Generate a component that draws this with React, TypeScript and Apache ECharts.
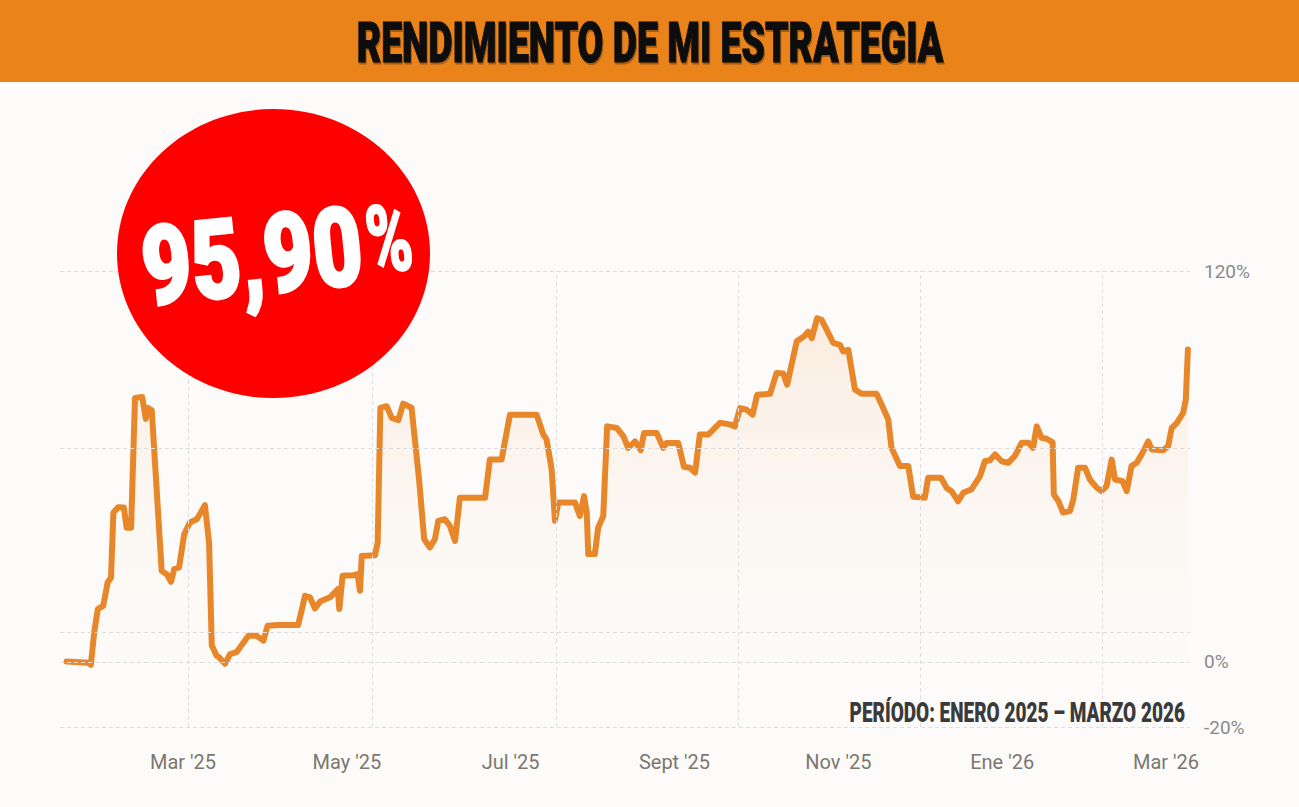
import React, { useEffect, useRef } from "react";
import * as echarts from "echarts";

// Days since the start of the chart and cumulative return (%)
const days = [
  2.2, 9.4, 10.3, 11.4, 12.6, 14.4, 15.9, 17.0, 17.8, 19.4, 21.3, 22.2, 23.7, 25.0, 27.4, 28.6, 29.2, 30.6,
  33.9, 35.6, 37.0, 38.1, 39.7, 41.4, 43.3, 45.6, 46.9, 48.3, 49.7, 50.6, 52.2, 53.0, 55.0, 56.7, 58.9,
  62.8, 65.6, 67.8, 69.2, 72.8, 79.4, 81.7, 83.3, 85.0, 86.7, 90.0, 92.6, 93.1, 94.2, 97.8, 99.2, 100.0,
  100.6, 105.0, 105.9, 106.8, 108.9, 110.6, 112.8, 114.4, 117.2, 119.7, 121.4, 123.3, 125.0, 126.1, 128.3,
  130.0, 131.7, 133.3, 141.7, 143.3, 147.2, 150.0, 158.9, 161.1, 162.2, 163.9, 165.0, 166.1, 171.7, 173.3,
  174.7, 175.6, 176.1, 178.3, 179.4, 181.1, 182.4, 185.6, 187.8, 189.4, 191.7, 193.6, 194.7, 198.9, 201.1,
  202.2, 206.1, 208.0, 210.0, 211.7, 213.3, 216.1, 220.0, 223.3, 225.0, 226.7, 228.9, 230.9, 232.4, 236.7,
  238.9, 241.1, 242.4, 245.6, 248.0, 249.4, 250.6, 252.4, 253.9, 255.6, 257.8, 260.0, 261.1, 262.8, 265.0,
  267.2, 272.2, 273.9, 276.1, 277.2, 280.0, 282.8, 284.4, 288.3, 289.4, 293.7, 295.6, 297.2, 299.4, 301.1,
  303.9, 306.7, 308.3, 310.0, 311.7, 313.9, 316.1, 318.3, 320.6, 322.8, 324.4, 325.6, 327.2, 328.9, 330.9,
  331.3, 332.8, 334.4, 336.7, 337.8, 339.4, 341.7, 343.3, 345.6, 347.2, 348.9, 350.6, 351.7, 354.2, 355.6,
  357.2, 358.9, 360.6, 362.8, 363.9, 367.8, 369.4, 370.6, 372.2, 374.4, 375.3, 376.0,
];
const returns = [
  0.1, -0.3, -0.9, 9.1, 16.2, 17.2, 24.4, 25.8, 45.8, 47.5, 47.4, 41.2, 41.2, 81.0, 81.3, 74.6, 78.0, 77.2,
  27.9, 26.9, 24.6, 28.5, 29.0, 39.2, 42.8, 43.8, 45.8, 48.1, 36.6, 5.0, 1.9, 1.4, -0.6, 2.4, 3.0,
  8.0, 8.0, 6.5, 11.1, 11.3, 11.3, 20.3, 19.8, 16.4, 18.5, 19.8, 22.3, 16.2, 26.4, 26.6, 26.9, 21.8,
  32.5, 32.7, 36.6, 78.0, 78.5, 74.9, 74.2, 79.3, 78.0, 56.0, 37.7, 35.1, 37.7, 43.3, 43.8,
  41.7, 37.1, 50.4, 50.4, 62.1, 62.1, 75.9, 75.9, 69.8, 68.3, 59.1, 43.3, 48.9, 48.9, 44.8,
  50.9, 45.8, 33.1, 33.1, 41.2, 44.8, 72.3, 71.8, 69.3, 65.7, 67.7, 65.0, 70.3, 70.3, 65.7,
  67.2, 67.2, 59.9, 59.6, 58.1, 69.8, 69.8, 73.4, 72.9, 72.3, 77.9, 77.4, 75.9, 82.0, 82.3,
  88.7, 88.5, 85.1, 98.4, 99.9, 101.4, 99.4, 105.5, 105.0, 101.9, 97.9, 97.3, 95.3, 95.8, 83.6,
  82.3, 82.3, 79.0, 74.4, 65.7, 60.1, 60.1, 50.7, 50.4, 56.5, 56.5, 53.4, 52.4, 49.3, 51.9,
  53.0, 57.0, 61.6, 61.9, 63.7, 61.6, 61.1, 63.2, 67.3, 67.3, 65.7, 72.3, 68.8, 68.5, 67.4,
  51.4, 49.4, 45.8, 46.3, 49.9, 59.6, 59.6, 56.0, 53.5, 52.4, 54.0, 62.1, 56.0, 55.5, 52.4,
  60.1, 61.1, 63.7, 67.7, 65.2, 65.0, 66.2, 71.8, 73.2, 76.4, 80.5, 95.9,
];

const monthLabels = ["Mar '25", "May '25", "Jul '25", "Sept '25", "Nov '25", "Ene '26", "Mar '26"];
const verticalGridDays = [42.7, 104.0, 165.3, 226.0, 286.7, 347.3];
const horizontalGridValues = [120, 65.5, 9.2, 0, -20];
const yLabelValues = [120, 0, -20];

const title = "RENDIMIENTO DE MI ESTRATEGIA";
const badgeNumber = "95,90";
const badgePercent = "%";
const periodText = "PERÍODO: ENERO 2025 – MARZO 2026";

export default function App() {
  const ref = useRef<HTMLDivElement>(null);

  useEffect(() => {
    document.body.style.margin = "0";
    if (!ref.current) return;
    const chart = echarts.init(ref.current, undefined, { renderer: "svg" });
    const seriesData = days.map((d, i) => [d, returns[i]]);
    const gridLine = { color: "#dedede", width: 1, type: [4, 3] as any };

    chart.setOption({
      animation: false,
      backgroundColor: "#FCFBF9",
      grid: [
        { left: 60, right: 109, top: 271, bottom: 80 },
        { left: 183, right: 133, top: 271, bottom: 80 },
      ],
      xAxis: [
        { type: "value", gridIndex: 0, min: 0, max: 376.7, show: false },
        {
          type: "category",
          gridIndex: 1,
          data: monthLabels,
          boundaryGap: false,
          axisLine: { show: false },
          axisTick: { show: false },
          splitLine: { show: false },
          axisLabel: {
            margin: 25,
            color: "#7b7770",
            fontSize: 20,
            fontFamily: "Roboto",
            interval: 0,
          },
        },
      ],
      yAxis: [
        {
          type: "value",
          gridIndex: 0,
          position: "right",
          min: -20,
          max: 120,
          interval: 20,
          axisLine: { show: false },
          axisTick: { show: false },
          splitLine: { show: false },
          axisLabel: {
            margin: 14,
            color: "#8a8a8a",
            fontSize: 19,
            fontFamily: "Roboto",
            formatter: (v: number) => (yLabelValues.includes(v) ? v + "%" : ""),
          },
        },
        { type: "value", gridIndex: 1, show: false, min: 0, max: 1 },
      ],
      series: [
        {
          type: "line",
          xAxisIndex: 0,
          yAxisIndex: 0,
          z: 1,
          silent: true,
          data: [[0, 0]],
          symbol: "none",
          lineStyle: { opacity: 0 },
          markLine: {
            silent: true,
            symbol: "none",
            label: { show: false },
            lineStyle: gridLine,
            emphasis: { disabled: true },
            data: [
              ...verticalGridDays.map((d) => ({ xAxis: d })),
              ...horizontalGridValues.map((v) => ({ yAxis: v })),
            ],
          },
        },
        {
          type: "line",
          xAxisIndex: 0,
          yAxisIndex: 0,
          z: 3,
          data: seriesData,
          symbol: "none",
          smooth: false,
          lineStyle: { color: "#E8862A", width: 6, cap: "round", join: "round" },
          areaStyle: {
            color: new echarts.graphic.LinearGradient(0, 0, 0, 1, [
              { offset: 0, color: "rgba(246,170,110,0.26)" },
              { offset: 1, color: "rgba(252,240,230,0.05)" },
            ]),
          },
        },
        {
          type: "line",
          xAxisIndex: 1,
          yAxisIndex: 1,
          data: [],
          symbol: "none",
        },
      ],
      graphic: [
        {
          type: "rect",
          shape: { x: 0, y: 0, width: 1299, height: 82 },
          style: { fill: "#E9831A" },
          z: 10,
        },
        {
          type: "text",
          x: 650,
          y: 43,
          scaleX: 0.935,
          scaleY: 1.37,
          z: 11,
          style: {
            text: title,
            fontFamily: "Roboto",
            fontWeight: 900,
            fontSize: 40,
            fill: "#0c0c0c",
            stroke: "#0c0c0c",
            lineWidth: 0.8,
            align: "center",
            verticalAlign: "middle",
            textShadowColor: "rgba(0,0,0,0.3)",
            textShadowOffsetX: 1,
            textShadowOffsetY: 2,
            textShadowBlur: 1,
          },
        },
        {
          type: "ellipse",
          shape: { cx: 273.5, cy: 253.5, rx: 156.5, ry: 144.5 },
          style: { fill: "#FF0000" },
          z: 10,
        },
        {
          type: "text",
          x: 362,
          y: 246,
          rotation: 0.1,
          scaleX: 0.95,
          scaleY: 1.22,
          z: 12,
          style: {
            text: badgeNumber,
            fontFamily: "Roboto",
            fontWeight: 900,
            fontSize: 90,
            fill: "#FFFFFF",
            stroke: "#FFFFFF",
            lineWidth: 2.5,
            align: "right",
            verticalAlign: "middle",
          },
        },
        {
          type: "text",
          x: 366,
          y: 241,
          rotation: 0.1,
          scaleX: 0.8,
          scaleY: 1.2,
          z: 12,
          style: {
            text: badgePercent,
            fontFamily: "Roboto",
            fontWeight: 900,
            fontSize: 78,
            fill: "#FFFFFF",
            stroke: "#FFFFFF",
            lineWidth: 1.5,
            align: "left",
            verticalAlign: "middle",
          },
        },
        {
          type: "text",
          x: 1185,
          y: 713,
          scaleX: 0.95,
          scaleY: 1.34,
          z: 11,
          style: {
            text: periodText,
            fontFamily: "Roboto",
            fontWeight: 900,
            fontSize: 20,
            fill: "#3a3a3a",
            align: "right",
            verticalAlign: "middle",
          },
        },
      ],
    });

    return () => {
      chart.dispose();
    };
  }, []);

  return <div ref={ref} style={{ width: 1299, height: 807 }} />;
}
